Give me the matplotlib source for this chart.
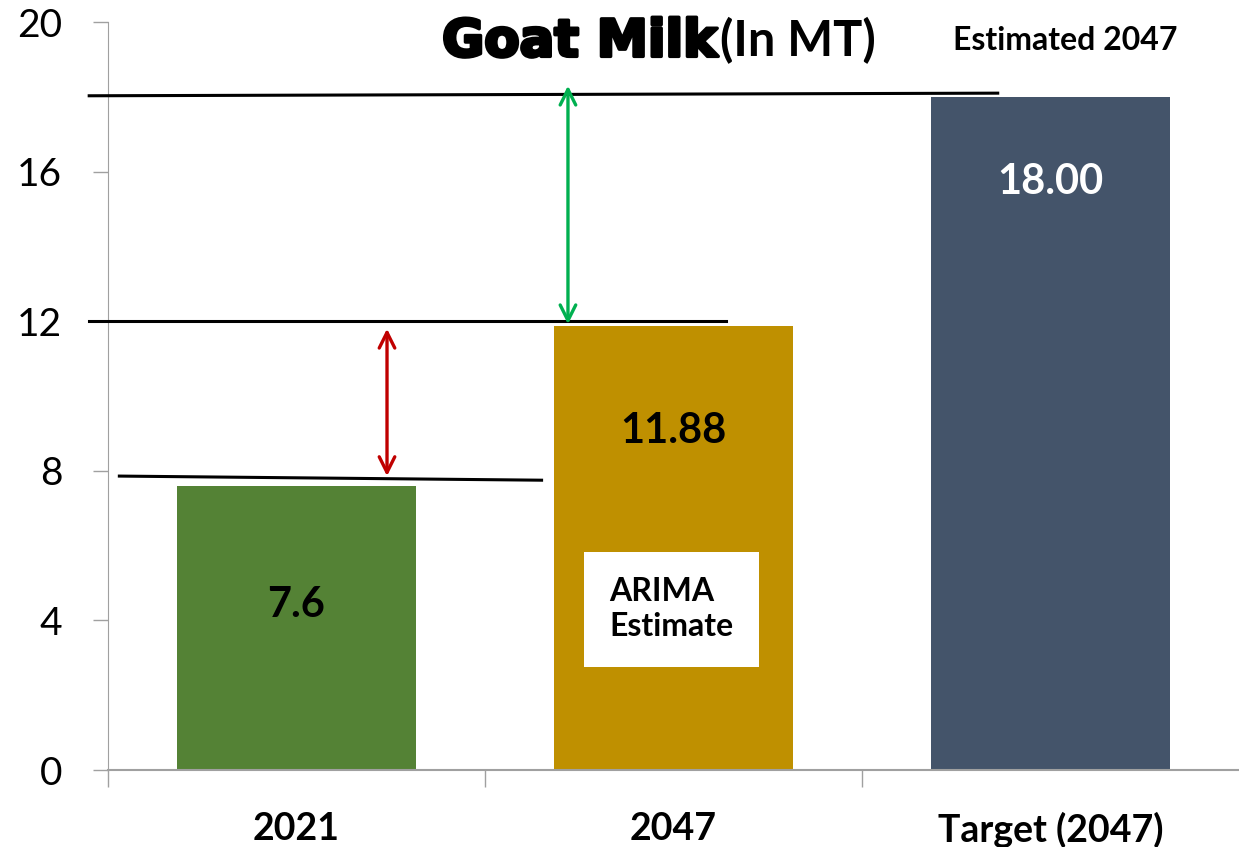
import matplotlib
matplotlib.use("Agg")
import matplotlib.pyplot as plt
import matplotlib.patheffects as pe

categories = ["2021", "2047", "Target (2047)"]
values = [7.6, 11.88, 18.0]
value_labels = ["7.6", "11.88", "18.00"]
bar_colors = ["#548235", "#BF9000", "#44546A"]
label_colors = ["black", "black", "white"]
label_heights = [4.42, 9.06, 15.72]
y_ticks = [0, 4, 8, 12, 16, 20]

# reference lines (value, x start, x end, value at end) and gap arrows
ref_lines = [(18.03, -0.55, 1.86, 18.1), (12.0, -0.55, 1.14, 12.0), (7.86, -0.47, 0.65, 7.75)]
green_arrow = (0.72, 18.3, 11.92)
red_arrow = (0.24, 11.8, 7.86)

plt.rcParams["font.family"] = ["Lato", "DejaVu Sans"]

fig = plt.figure(figsize=(12.39, 8.47), dpi=100)
ax = fig.add_axes([0.0872, 0.0909, 0.9128, 0.883])

x = range(len(categories))
ax.bar(x, values, width=0.635, color=bar_colors, zorder=2)

for i in x:
  ax.text(i, label_heights[i], value_labels[i], ha="center", va="center",
          fontsize=30, fontweight="bold", color=label_colors[i], zorder=3)

# Lineas horizontales
for y0, xa, xb, y1 in ref_lines:
  ax.plot([xa, xb], [y0, y1], color="black", lw=2.2, clip_on=False, zorder=4)

# Flechas
ax.annotate("", xy=(green_arrow[0], green_arrow[1]), xytext=(green_arrow[0], green_arrow[2]),
            arrowprops=dict(arrowstyle="<->", color="#00B050", lw=2.4, mutation_scale=28,
                            shrinkA=0, shrinkB=0), zorder=5)
ax.annotate("", xy=(red_arrow[0], red_arrow[1]), xytext=(red_arrow[0], red_arrow[2]),
            arrowprops=dict(arrowstyle="<->", color="#C00000", lw=2.4, mutation_scale=28,
                            shrinkA=0, shrinkB=0), zorder=5)

# Caja ARIMA
ax.text(0.83, 4.3, "ARIMA\nEstimate", ha="left", va="center", fontsize=23,
        fontweight="bold", linespacing=1.25, zorder=6,
        bbox=dict(boxstyle="square,pad=0.8", fc="white", ec="none"))

# Titulo
fig.text(0.579, 0.950, "Goat Milk", ha="right", va="center", fontsize=37,
         fontweight="bold", family="DejaVu Sans",
         path_effects=[pe.withStroke(linewidth=2.5, foreground="black")])
fig.text(0.581, 0.952, "(In MT)", ha="left", va="center", fontsize=35, fontweight="bold")
fig.text(0.86, 0.952, "Estimated 2047", ha="center", va="center", fontsize=23, fontweight="bold")

ax.set_xlim(-0.5, 2.5)
ax.set_ylim(0, 20)
ax.set_yticks(y_ticks)
ax.set_yticklabels([str(t) for t in y_ticks], fontsize=28)
ax.set_xticks(x)
ax.set_xticklabels(categories, fontsize=27, fontweight="bold")
ax.tick_params(axis="x", length=0, pad=30)
ax.tick_params(axis="y", length=11, width=1, color="#A0A0A0", pad=22)
ax.set_xticks([-0.5, 0.5, 1.5], minor=True)
ax.tick_params(axis="x", which="minor", length=12, width=1, color="#A0A0A0", direction="out")

for s in ["top", "right"]:
  ax.spines[s].set_visible(False)
ax.spines["left"].set_color("#A0A0A0")
ax.spines["bottom"].set_color("#A0A0A0")
ax.spines["bottom"].set_linewidth(1.5)

fig.savefig("out.png", dpi=100)
